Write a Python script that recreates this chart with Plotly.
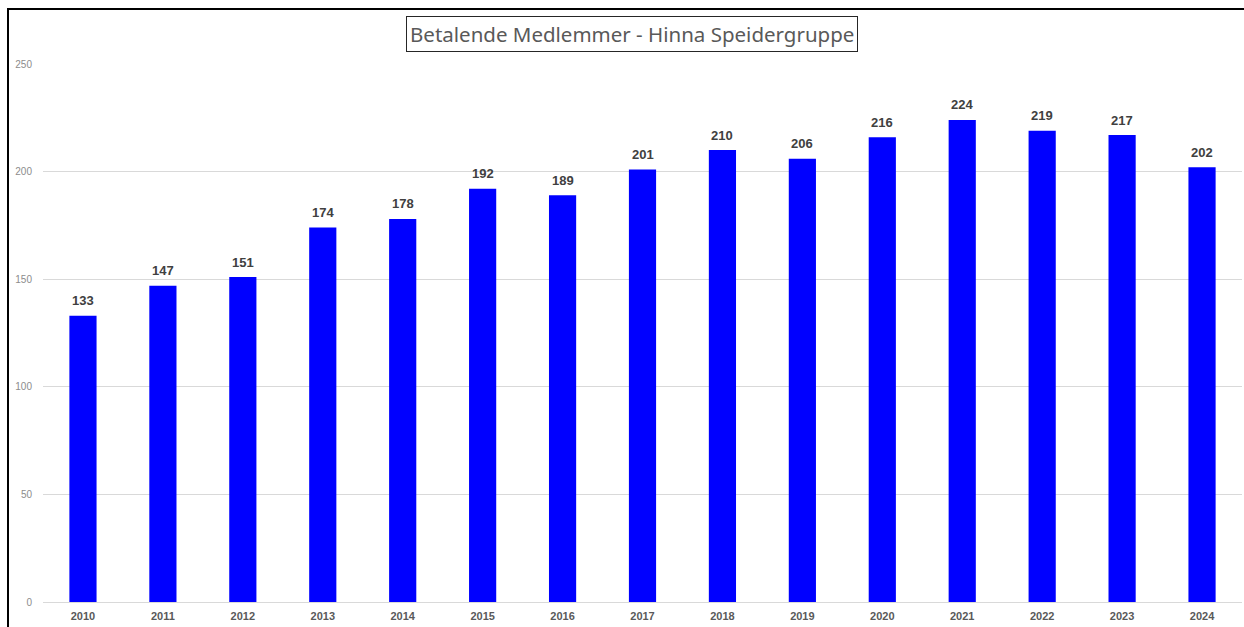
import plotly.graph_objects as go

years = ["2010", "2011", "2012", "2013", "2014", "2015", "2016", "2017",
         "2018", "2019", "2020", "2021", "2022", "2023", "2024"]
members = [133, 147, 151, 174, 178, 192, 189, 201, 210, 206, 216, 224, 219, 217, 202]
y_ticks = [0, 50, 100, 150, 200, 250]
title_text = "Betalende Medlemmer - Hinna Speidergruppe"

fig = go.Figure(go.Bar(
    x=years, y=members,
    marker=dict(color="#0000FF", line=dict(width=0)),
    hovertemplate="%{x}: %{y}<extra></extra>",
))

label_annotations = [dict(
    x=i, y=v, xref="x", yref="y", text="<b>%d</b>" % v,
    showarrow=False, yanchor="middle", yshift=15,
    font=dict(family="Liberation Sans, Arial", size=13, color="#404040"),
) for i, v in enumerate(members)]

fig.update_layout(
    width=1244, height=627,
    margin=dict(l=43, r=2, t=64, b=25),
    paper_bgcolor="white", plot_bgcolor="white",
    bargap=0.66,
    showlegend=False,
    xaxis=dict(
        type="category", range=[-0.5, 14.5],
        showgrid=False, showline=False, zeroline=False,
        ticks="", ticklabelstandoff=6,
        tickfont=dict(family="Liberation Sans, Arial", size=11, color="#595959", weight="bold"),
    ),
    yaxis=dict(
        range=[0, 250], tickvals=y_ticks,
        showgrid=True, gridcolor="#d9d9d9", gridwidth=1,
        zeroline=True, zerolinecolor="#d9d9d9", zerolinewidth=1,
        showline=False, ticks="", ticklabelstandoff=10,
        tickfont=dict(family="Liberation Sans, Arial", size=10, color="#8c8c8c"),
    ),
    annotations=label_annotations + [dict(
        text=title_text, xref="paper", yref="paper",
        x=(632 - 43) / 1199, y=(602 - 34) / 538,
        xanchor="center", yanchor="middle", showarrow=False,
        font=dict(family="Noto Sans", size=20.5, color="#595959"),
        bordercolor="#262626", borderwidth=1, borderpad=3,
        bgcolor="white",
    )],
    shapes=[dict(
        type="rect", xref="paper", yref="paper",
        x0=(8 - 43) / 1199, x1=(1260 - 43) / 1199,
        y0=(602 - 640) / 538, y1=(602 - 9) / 538,
        line=dict(color="black", width=2), fillcolor="rgba(0,0,0,0)",
        layer="above",
    )],
)

fig.write_html(
    "out.html",
    config={"displayModeBar": False},
    post_script="document.body.style.margin='0';document.body.style.overflow='hidden';",
)
